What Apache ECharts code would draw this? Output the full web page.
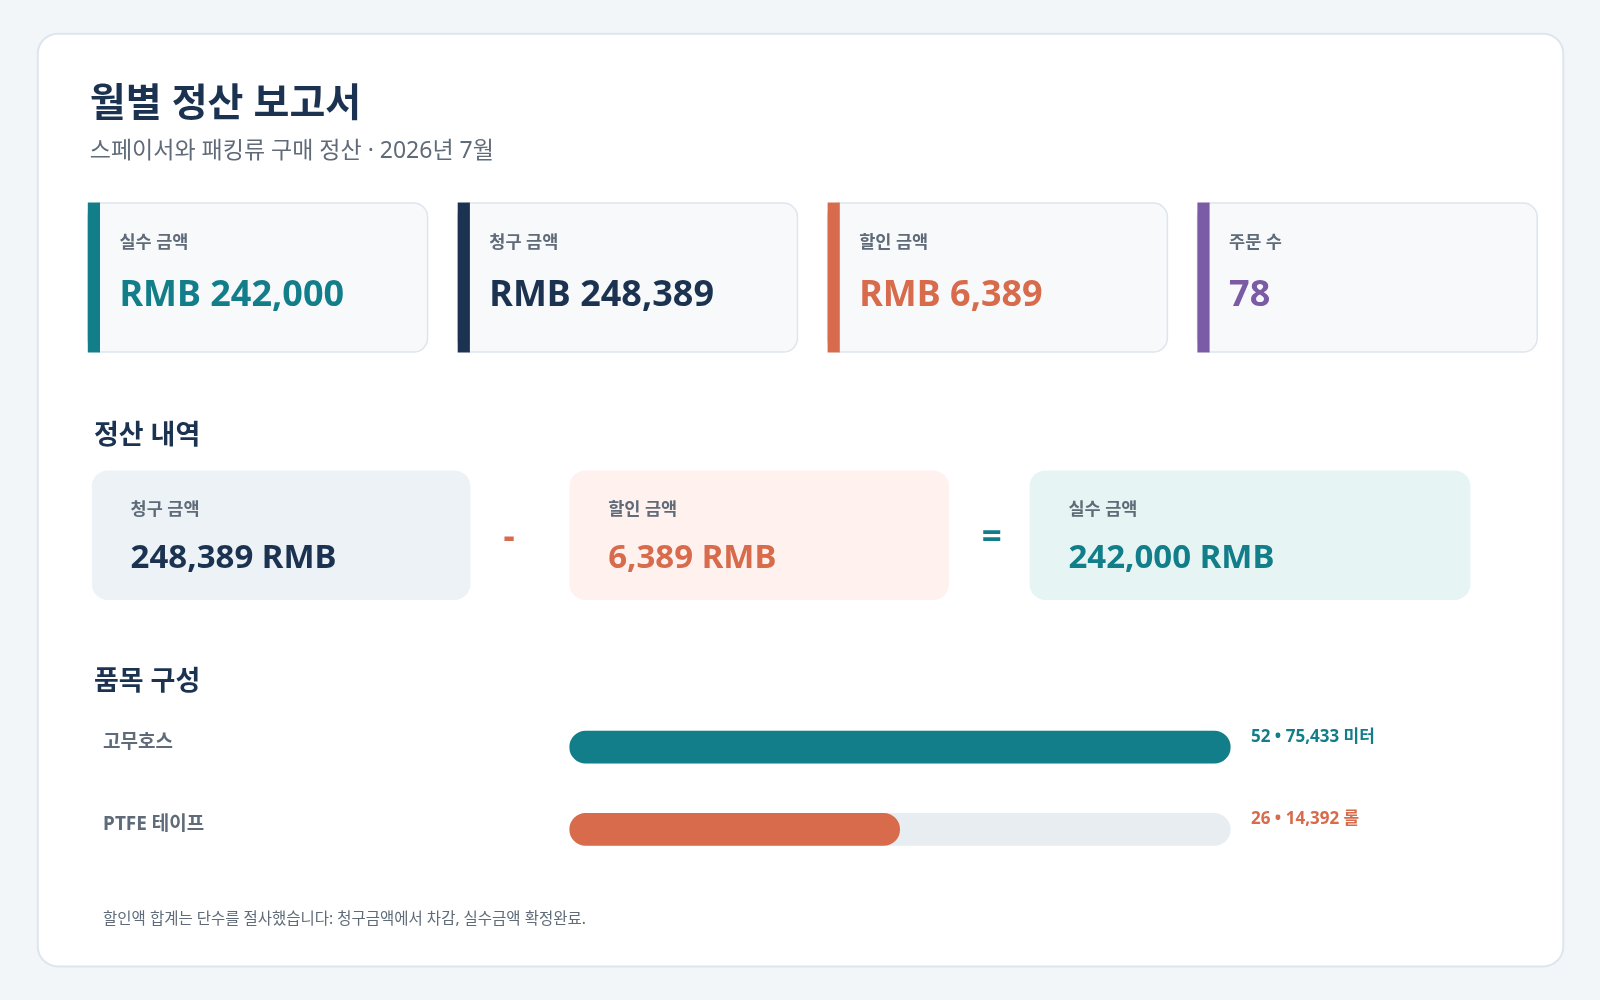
<!DOCTYPE html>
<html lang="ko">
<head>
<meta charset="UTF-8">
<title>월별 정산 보고서</title>
<style>
  html, body { margin: 0; padding: 0; background: #f3f6f9; }
  #main { width: 1600px; height: 1000px; }
</style>
</head>
<body>
<div id="main"></div>
<script src="https://cdn.jsdelivr.net/npm/echarts@6/dist/echarts.min.js"></script>
<script>
  // ---- data ----
  const titleText = '월별 정산 보고서';
  const subtitleText = '스페이서와 패킹류 구매 정산 · 2026년 7월';

  const kpiLabels = ['실수 금액', '청구 금액', '할인 금액', '주문 수'];
  const kpiValues = ['RMB 242,000', 'RMB 248,389', 'RMB 6,389', '78'];

  const calcLabels = ['청구 금액', '할인 금액', '실수 금액'];
  const calcValues = [248389, 6389, 242000];
  const calcOps = ['-', '='];

  const itemNames = ['고무호스', 'PTFE 테이프'];
  const itemCounts = [52, 26];
  const itemQty = [75433, 14392];
  const itemUnits = ['미터', '롤'];

  const footnote = '할인액 합계는 단수를 절사했습니다: 청구금액에서 차감, 실수금액 확정완료.';

  // ---- styles ----
  const FONT = "'Noto Sans', 'Noto Sans CJK KR', sans-serif";
  const kpiColors = ['#127e8a', '#1b3350', '#d76b4c', '#7b5ba6'];
  const calcBg = ['#edf2f6', '#fff1ee', '#e6f4f3'];
  const calcColors = ['#1b3350', '#d76b4c', '#127e8a'];
  const opColors = ['#d76b4c', '#127e8a'];
  const itemColors = ['#127e8a', '#d76b4c'];
  const grey = '#5f6b78';

  // layout measured on a 1568-wide view, scaled up to the 1600 canvas
  const S = 1600 / 1568;
  const p = v => Math.round(v * S * 10) / 10;
  const fmt = n => n.toLocaleString('en-US');

  const txt = (x, y, text, size, color, extra) => ({
    type: 'text', x: p(x), y: p(y), z: 2,
    style: Object.assign({ text: text, fontFamily: FONT, fontSize: size, fill: color,
      verticalAlign: 'middle' }, extra || {})
  });

  const graphics = [];
  // outer card
  graphics.push({ type: 'rect', shape: { x: p(37), y: p(33), width: p(1495), height: p(914), r: 20 },
    style: { fill: '#ffffff', stroke: '#dde5ee', lineWidth: 2 }, z: 0 });
  graphics.push(txt(88, 103, titleText, 39, '#1b3350', { fontWeight: 'bold' }));
  graphics.push(txt(88, 148, subtitleText, 23, grey));

  // KPI cards
  kpiLabels.forEach((lab, i) => {
    const x = 86 + i * 362.5;
    graphics.push({ type: 'rect', shape: { x: p(x), y: p(199), width: p(333), height: p(146), r: 14 },
      style: { fill: '#f7f9fb', stroke: '#dde5ee', lineWidth: 1.5 }, z: 1 });
    graphics.push({ type: 'rect', shape: { x: p(x), y: p(198.5), width: p(12), height: p(147) },
      style: { fill: kpiColors[i] }, z: 2 });
    graphics.push(txt(x + 31, 238, lab, 17.5, grey, { fontWeight: 'bold' }));
    graphics.push(txt(x + 31, 290, kpiValues[i], 36, kpiColors[i], { fontWeight: 'bold' }));
  });

  // section headers
  graphics.push(txt(92, 428, '정산 내역', 27, '#1b3350', { fontWeight: 'bold' }));
  graphics.push(txt(92, 669, '품목 구성', 27, '#1b3350', { fontWeight: 'bold' }));

  // calculation boxes
  const calcX = [90, 558, 1009];
  const calcW = [371, 372, 432];
  calcLabels.forEach((lab, i) => {
    graphics.push({ type: 'rect', shape: { x: p(calcX[i]), y: p(461), width: p(calcW[i]), height: p(127), r: 16 },
      style: { fill: calcBg[i] }, z: 1 });
    graphics.push(txt(calcX[i] + 38, 500, lab, 17.5, grey, { fontWeight: 'bold' }));
    graphics.push(txt(calcX[i] + 38, 547, fmt(calcValues[i]) + ' RMB', 33, calcColors[i], { fontWeight: 'bold' }));
  });
  const opX = [499, 972];
  calcOps.forEach((op, i) => {
    graphics.push(txt(opX[i], 527, op, 35, opColors[i], { fontWeight: 'bold', align: 'center' }));
  });

  graphics.push(txt(101, 901, footnote, 15.5, grey));

  const maxCount = Math.max(...itemCounts);

  const chart = echarts.init(document.getElementById('main'));
  chart.setOption({
    backgroundColor: '#f3f6f9',
    animation: false,
    graphic: graphics,
    grid: { left: p(558), width: p(648), top: p(692), height: p(161) },
    xAxis: { type: 'value', min: 0, max: maxCount, show: false },
    yAxis: {
      type: 'category', inverse: true, data: itemNames,
      axisLine: { show: false }, axisTick: { show: false },
      axisLabel: { align: 'left', verticalAlign: 'bottom', lineHeight: 10, margin: p(457),
        fontFamily: FONT, fontSize: 19, fontWeight: 'bold', color: grey }
    },
    series: [
      {
        type: 'bar', name: 'track', barWidth: p(32), barGap: '-100%', z: 3,
        data: itemNames.map((n, i) => ({
          value: maxCount,
          label: { color: itemColors[i] }
        })),
        itemStyle: { color: '#e8edf1', borderRadius: p(16) },
        label: {
          show: true, position: 'right', distance: p(20), offset: [0, -p(10)],
          fontFamily: FONT, fontSize: 17, fontWeight: 'bold',
          formatter: q => itemCounts[q.dataIndex] + ' • ' + fmt(itemQty[q.dataIndex]) + ' ' + itemUnits[q.dataIndex]
        },
        silent: true
      },
      {
        type: 'bar', name: 'count', barWidth: p(32), barGap: '-100%', z: 4,
        data: itemCounts.map((v, i) => ({ value: v, itemStyle: { color: itemColors[i] } })),
        itemStyle: { borderRadius: p(16) }
      }
    ]
  });
</script>
</body>
</html>
